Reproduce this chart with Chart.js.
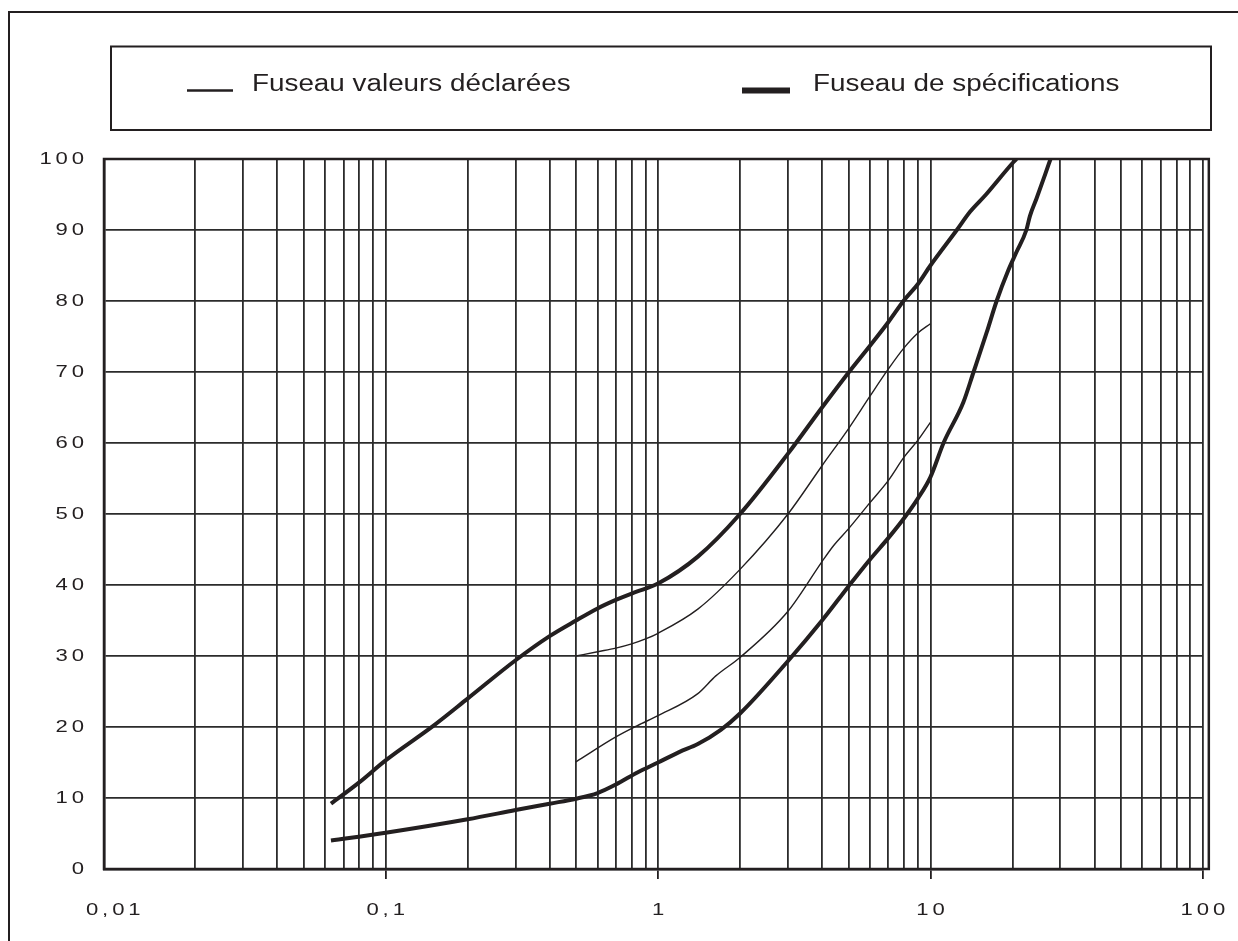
<!DOCTYPE html>
<html lang="fr">
<head>
<meta charset="utf-8">
<title>Fuseaux granulométriques</title>
<script src="https://cdn.jsdelivr.net/npm/chart.js@4.4.1/dist/chart.umd.min.js"></script>
<style>
  html, body { margin: 0; padding: 0; background: #ffffff; }
  canvas { display: block; }
</style>
</head>
<body>
<canvas id="chart" width="1238" height="941"></canvas>
<script>
// Ouvertures de tamis (mm) et passants cumulés (%) de chaque courbe
const specUpperSieves  = [0.063, 0.08, 0.1, 0.15, 0.2, 0.3, 0.4, 0.5, 0.6, 0.7, 0.8, 0.9, 1, 1.4, 2, 3, 4, 5, 6, 7, 8, 9, 10, 12.5, 14, 16, 20, 20.7];
const specUpperPassing = [9.2, 12.2, 15.3, 20.2, 24.0, 29.4, 32.8, 35.0, 36.7, 37.9, 38.8, 39.5, 40.2, 44.0, 50.0, 58.5, 65.0, 69.9, 73.7, 77.0, 80.1, 82.4, 85.0, 90.0, 92.6, 95.0, 99.4, 100];

const specLowerSieves  = [0.063, 0.1, 0.2, 0.3, 0.4, 0.5, 0.6, 0.7, 0.84, 1, 1.2, 1.4, 1.7, 2, 3, 4, 5, 6, 7, 8, 9, 10, 11.2, 13.2, 14.4, 16.1, 17.5, 19.3, 20.7, 22.5, 23.2, 24.5, 26.3, 27.6];
const specLowerPassing = [4.0, 5.1, 7.0, 8.3, 9.2, 9.9, 10.7, 11.9, 13.6, 15.0, 16.5, 17.6, 19.6, 21.9, 29.3, 35.0, 39.8, 43.6, 46.6, 49.4, 52.2, 55.2, 60.1, 65.7, 70.0, 75.6, 80.0, 84.3, 86.9, 90.0, 92.0, 94.4, 97.7, 100];

const declUpperSieves  = [0.5, 0.6, 0.7, 0.8, 0.9, 1, 1.4, 2, 3, 4, 5, 6, 7, 8, 9, 10];
const declUpperPassing = [30.0, 30.6, 31.1, 31.7, 32.4, 33.2, 36.6, 42.2, 50.0, 56.8, 62.0, 66.6, 70.4, 73.4, 75.5, 76.8];

const declLowerSieves  = [0.5, 0.7, 0.84, 1, 1.4, 1.63, 2, 3, 4, 4.4, 5, 6, 7, 8, 9, 10];
const declLowerPassing = [15.1, 18.6, 20.2, 21.6, 24.7, 27.2, 29.8, 36.3, 43.3, 45.5, 47.9, 51.6, 54.7, 58.0, 60.4, 62.9];

// Axes
const xDecades    = [0.01, 0.1, 1, 10, 100];
const xTickLabels = ['0,01', '0,1', '1', '10', '100'];
const yTicks      = [0, 10, 20, 30, 40, 50, 60, 70, 80, 90, 100];

const legendLabels = ['Fuseau valeurs déclarées', 'Fuseau de spécifications'];

// Sizes and colours
const INK = '#231f20';
const GRID = '#2b2b2b';
const FONT = '"Liberation Sans", Arial, sans-serif';
const THIN = 1.4;
const THICK = 4;
const TICK_STRETCH = 1.3;

// Grid lines of the log paper: 1..9 within each decade
const gridSieves = [];
for (let i = 0; i < xDecades.length - 1; i++) {
  for (let k = 1; k <= 9; k++) gridSieves.push(Number((xDecades[i] * k).toPrecision(6)));
}
gridSieves.push(xDecades[xDecades.length - 1]);

const toPoints = (xs, ys) => xs.map((x, i) => ({ x, y: ys[i] }));

function curve(label, xs, ys, width) {
  return {
    label,
    data: toPoints(xs, ys),
    borderColor: INK,
    borderWidth: width,
    pointRadius: 0,
    fill: false,
    cubicInterpolationMode: 'monotone',
    borderCapStyle: 'butt'
  };
}

// Page border, plot frame, legend box, and wide spaced tick lettering
const decorations = {
  id: 'decorations',
  beforeDraw(chart) {
    const ctx = chart.ctx;
    ctx.letterSpacing = '3px';
    const plainFillText = CanvasRenderingContext2D.prototype.fillText;
    ctx.fillText = function (text, x, y) {
      this.save();
      this.translate(x, y);
      this.scale(TICK_STRETCH, 1);
      plainFillText.call(this, text, 0, 0);
      this.restore();
    };
  },
  beforeDatasetsDraw(chart) {
    const { ctx, chartArea: a } = chart;
    ctx.save();
    ctx.strokeStyle = INK;
    ctx.lineWidth = 2.5;
    ctx.strokeRect(a.left, a.top, a.right + 6 - a.left, a.bottom - a.top);
    ctx.restore();
  },
  afterDraw(chart) {
    const ctx = chart.ctx;
    delete ctx.fillText;
    ctx.save();
    ctx.letterSpacing = '0px';
    ctx.strokeStyle = INK;
    // outer page border
    ctx.lineWidth = 2;
    ctx.strokeRect(9, 12, 1400, 1100);
    // legend box
    ctx.strokeRect(111, 46.5, 1100, 83.5);

    const items = [
      { text: legendLabels[0], x0: 187, x1: 233, tx: 252, w: 2.5 },
      { text: legendLabels[1], x0: 742, x1: 790, tx: 813, w: 6 }
    ];
    const base = 90.5;
    ctx.fillStyle = INK;
    ctx.font = '23px ' + FONT;
    ctx.textBaseline = 'alphabetic';
    ctx.textAlign = 'left';
    items.forEach(it => {
      ctx.lineWidth = it.w;
      ctx.beginPath();
      ctx.moveTo(it.x0, base);
      ctx.lineTo(it.x1, base);
      ctx.stroke();
      ctx.save();
      ctx.translate(it.tx, base);
      ctx.scale(1.21, 1);
      ctx.fillText(it.text, 0, 0);
      ctx.restore();
    });
    ctx.restore();
    ctx.letterSpacing = '0px';
  }
};

const isLabelledDecade = v => xDecades.indexOf(v) > 0;

new Chart(document.getElementById('chart'), {
  type: 'line',
  data: {
    datasets: [
      curve(legendLabels[1], specUpperSieves, specUpperPassing, THICK),
      curve(legendLabels[1], specLowerSieves, specLowerPassing, THICK),
      curve(legendLabels[0], declUpperSieves, declUpperPassing, THIN),
      curve(legendLabels[0], declLowerSieves, declLowerPassing, THIN)
    ]
  },
  options: {
    responsive: false,
    animation: false,
    events: [],
    layout: { padding: { left: 0, right: 31, top: 159, bottom: 0 } },
    plugins: { legend: { display: false }, tooltip: { enabled: false } },
    scales: {
      x: {
        type: 'logarithmic',
        position: 'bottom',
        min: 0.00925,
        max: 100,
        afterBuildTicks: s => { s.ticks = gridSieves.map(v => ({ value: v })); },
        afterFit: s => { s.height = 72; },
        ticks: {
          autoSkip: false,
          maxRotation: 0,
          minRotation: 0,
          padding: 21,
          labelOffset: 2,
          color: INK,
          font: { family: FONT, size: 17 },
          callback: v => {
            const i = xDecades.indexOf(v);
            return i >= 0 ? xTickLabels[i] : '';
          }
        },
        grid: {
          color: c => (c.tick && c.tick.value === xDecades[0]) ? 'rgba(0,0,0,0)' : GRID,
          lineWidth: 1.8,
          tickLength: 10,
          tickWidth: 1.8,
          tickColor: c => (c.tick && isLabelledDecade(c.tick.value)) ? INK : 'rgba(0,0,0,0)'
        },
        border: { color: INK, width: 2.5 }
      },
      y: {
        type: 'linear',
        min: 0,
        max: 100,
        afterBuildTicks: s => { s.ticks = yTicks.map(v => ({ value: v })); },
        afterFit: s => { s.width = 104; },
        ticks: {
          padding: 16,
          color: INK,
          font: { family: FONT, size: 17 },
          callback: v => String(v)
        },
        grid: { color: GRID, lineWidth: 1.8, drawTicks: false },
        border: { color: INK, width: 2.5 }
      }
    }
  },
  plugins: [decorations]
});
</script>
</body>
</html>
